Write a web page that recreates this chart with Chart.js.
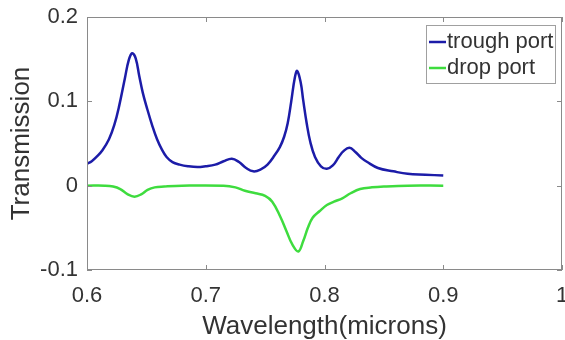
<!DOCTYPE html>
<html>
<head>
<meta charset="utf-8">
<script src="https://cdn.jsdelivr.net/npm/chart.js@4"></script>
<style>
  html, body { margin: 0; padding: 0; background: #fff; }
  #wrap { width: 565px; height: 340px; }
</style>
</head>
<body>
<div id="wrap"><canvas id="chart" width="565" height="340"></canvas></div>
<script>
const troughWl = [0.600, 0.604, 0.608, 0.613, 0.6185, 0.623, 0.627, 0.632, 0.635, 0.638, 0.641, 0.644, 0.647, 0.6505,
  0.655, 0.659, 0.663, 0.667, 0.672, 0.678, 0.685, 0.693, 0.700, 0.708, 0.715, 0.722, 0.728, 0.734, 0.740, 0.746,
  0.752, 0.758, 0.7625, 0.766, 0.769, 0.772, 0.775, 0.777, 0.780, 0.782, 0.785, 0.788, 0.792, 0.797, 0.802, 0.807,
  0.812, 0.816, 0.821, 0.826, 0.831, 0.836, 0.845, 0.858, 0.870, 0.885, 0.900];
const troughT = [0.026, 0.029, 0.034, 0.042, 0.055, 0.072, 0.094, 0.128, 0.148, 0.157, 0.151, 0.130, 0.110, 0.092,
  0.071, 0.055, 0.043, 0.034, 0.028, 0.025, 0.023, 0.022, 0.023, 0.025, 0.029, 0.032, 0.028, 0.021, 0.017, 0.019,
  0.025, 0.036, 0.046, 0.058, 0.074, 0.100, 0.128, 0.136, 0.122, 0.102, 0.074, 0.052, 0.034, 0.023, 0.020, 0.024,
  0.034, 0.041, 0.045, 0.040, 0.033, 0.028, 0.021, 0.017, 0.014, 0.013, 0.012];

const dropWl = [0.600, 0.615, 0.622, 0.628, 0.634, 0.640, 0.646, 0.651, 0.657, 0.665, 0.680, 0.715, 0.725, 0.733,
  0.742, 0.750, 0.756, 0.7625, 0.768, 0.773, 0.778, 0.782, 0.786, 0.790, 0.796, 0.802, 0.808, 0.815, 0.822, 0.830,
  0.840, 0.850, 0.870, 0.900];
const dropT = [0.000, 0.000, -0.001, -0.004, -0.010, -0.013, -0.010, -0.005, -0.002, -0.001, 0.000, 0.000, -0.002, -0.006,
  -0.009, -0.012, -0.019, -0.036, -0.054, -0.070, -0.078, -0.066, -0.050, -0.038, -0.030, -0.023, -0.019, -0.015, -0.009, -0.004,
  -0.002, -0.001, 0.000, 0.000];

const seriesNames = ['trough port', 'drop port'];
const seriesColors = ['#1c1ca8', '#3edc3e'];

const FONT = "'Liberation Sans', Arial, sans-serif";
const TEXT = '#333333';
const AXIS = '#8a8a8a';

function toPoints(xs, ys) {
  return xs.map((x, i) => ({ x: x, y: ys[i] }));
}

// short tick labels like "0", "1", "-0.1"
function tickText(v) {
  return String(+v.toFixed(1));
}

// matlab style box with inward ticks
const boxTicks = {
  id: 'boxTicks',
  afterDraw(chart) {
    const { ctx, chartArea: a, scales } = chart;
    const len = 5;
    ctx.save();
    ctx.strokeStyle = AXIS;
    ctx.lineWidth = 1;
    ctx.strokeRect(a.left + 0.5, a.top + 0.5, a.right - a.left - 1, a.bottom - a.top - 1);
    ctx.beginPath();
    scales.x.ticks.forEach(t => {
      const px = Math.round(scales.x.getPixelForValue(t.value)) + 0.5;
      ctx.moveTo(px, a.bottom); ctx.lineTo(px, a.bottom - len);
      ctx.moveTo(px, a.top); ctx.lineTo(px, a.top + len);
    });
    scales.y.ticks.forEach(t => {
      const py = Math.round(scales.y.getPixelForValue(t.value)) + 0.5;
      ctx.moveTo(a.left, py); ctx.lineTo(a.left + len, py);
      ctx.moveTo(a.right, py); ctx.lineTo(a.right - len, py);
    });
    ctx.stroke();
    ctx.restore();
  }
};

// legend box in the upper right corner
const boxLegend = {
  id: 'boxLegend',
  afterDraw(chart) {
    const { ctx } = chart;
    const x0 = 426, y0 = 25, w = 129, h = 58;
    ctx.save();
    ctx.fillStyle = '#fff';
    ctx.fillRect(x0, y0, w, h);
    ctx.strokeStyle = '#a0a0a0';
    ctx.lineWidth = 1;
    ctx.strokeRect(x0 + 0.5, y0 + 0.5, w, h);
    ctx.font = '22px ' + FONT;
    ctx.textBaseline = 'middle';
    chart.data.datasets.forEach((ds, i) => {
      const cy = y0 + 17 + i * 26;
      ctx.strokeStyle = ds.borderColor;
      ctx.lineWidth = 2.5;
      ctx.beginPath();
      ctx.moveTo(x0 + 3, cy); ctx.lineTo(x0 + 20, cy);
      ctx.stroke();
      ctx.fillStyle = TEXT;
      ctx.fillText(ds.label, x0 + 21, cy);
    });
    ctx.restore();
  }
};

new Chart(document.getElementById('chart'), {
  type: 'line',
  data: {
    datasets: [
      { label: seriesNames[0], data: toPoints(troughWl, troughT), borderColor: seriesColors[0], borderWidth: 2.5,
        pointRadius: 0, fill: false, tension: 0.4 },
      { label: seriesNames[1], data: toPoints(dropWl, dropT), borderColor: seriesColors[1], borderWidth: 2.5,
        pointRadius: 0, fill: false, tension: 0.4 }
    ]
  },
  options: {
    responsive: false,
    animation: false,
    layout: { padding: { top: 17, right: 3, left: 0, bottom: 0 } },
    plugins: { legend: { display: false }, tooltip: { enabled: false } },
    scales: {
      x: {
        type: 'linear', min: 0.6, max: 1,
        ticks: { stepSize: 0.1, color: TEXT, font: { family: FONT, size: 22 }, padding: 13, maxRotation: 0,
          callback: tickText },
        grid: { display: false, drawTicks: false },
        border: { display: false },
        title: { display: true, text: 'Wavelength(microns)', color: TEXT,
          font: { family: FONT, size: 26, lineHeight: 1 }, padding: 0 },
        afterFit(s) { s.height = 70; s.paddingLeft = 0; s.paddingRight = 0; }
      },
      y: {
        min: -0.1, max: 0.2,
        ticks: { stepSize: 0.1, color: TEXT, font: { family: FONT, size: 22 }, padding: 9, callback: tickText },
        grid: { display: false, drawTicks: false },
        border: { display: false },
        title: { display: true, text: 'Transmission', color: TEXT,
          font: { family: FONT, size: 26, lineHeight: 1.2 }, padding: { top: 6, bottom: 0 } },
        afterFit(s) { s.width = 87; s.paddingTop = 0; s.paddingBottom = 0; }
      }
    }
  },
  plugins: [boxTicks, boxLegend]
});
</script>
</body>
</html>
